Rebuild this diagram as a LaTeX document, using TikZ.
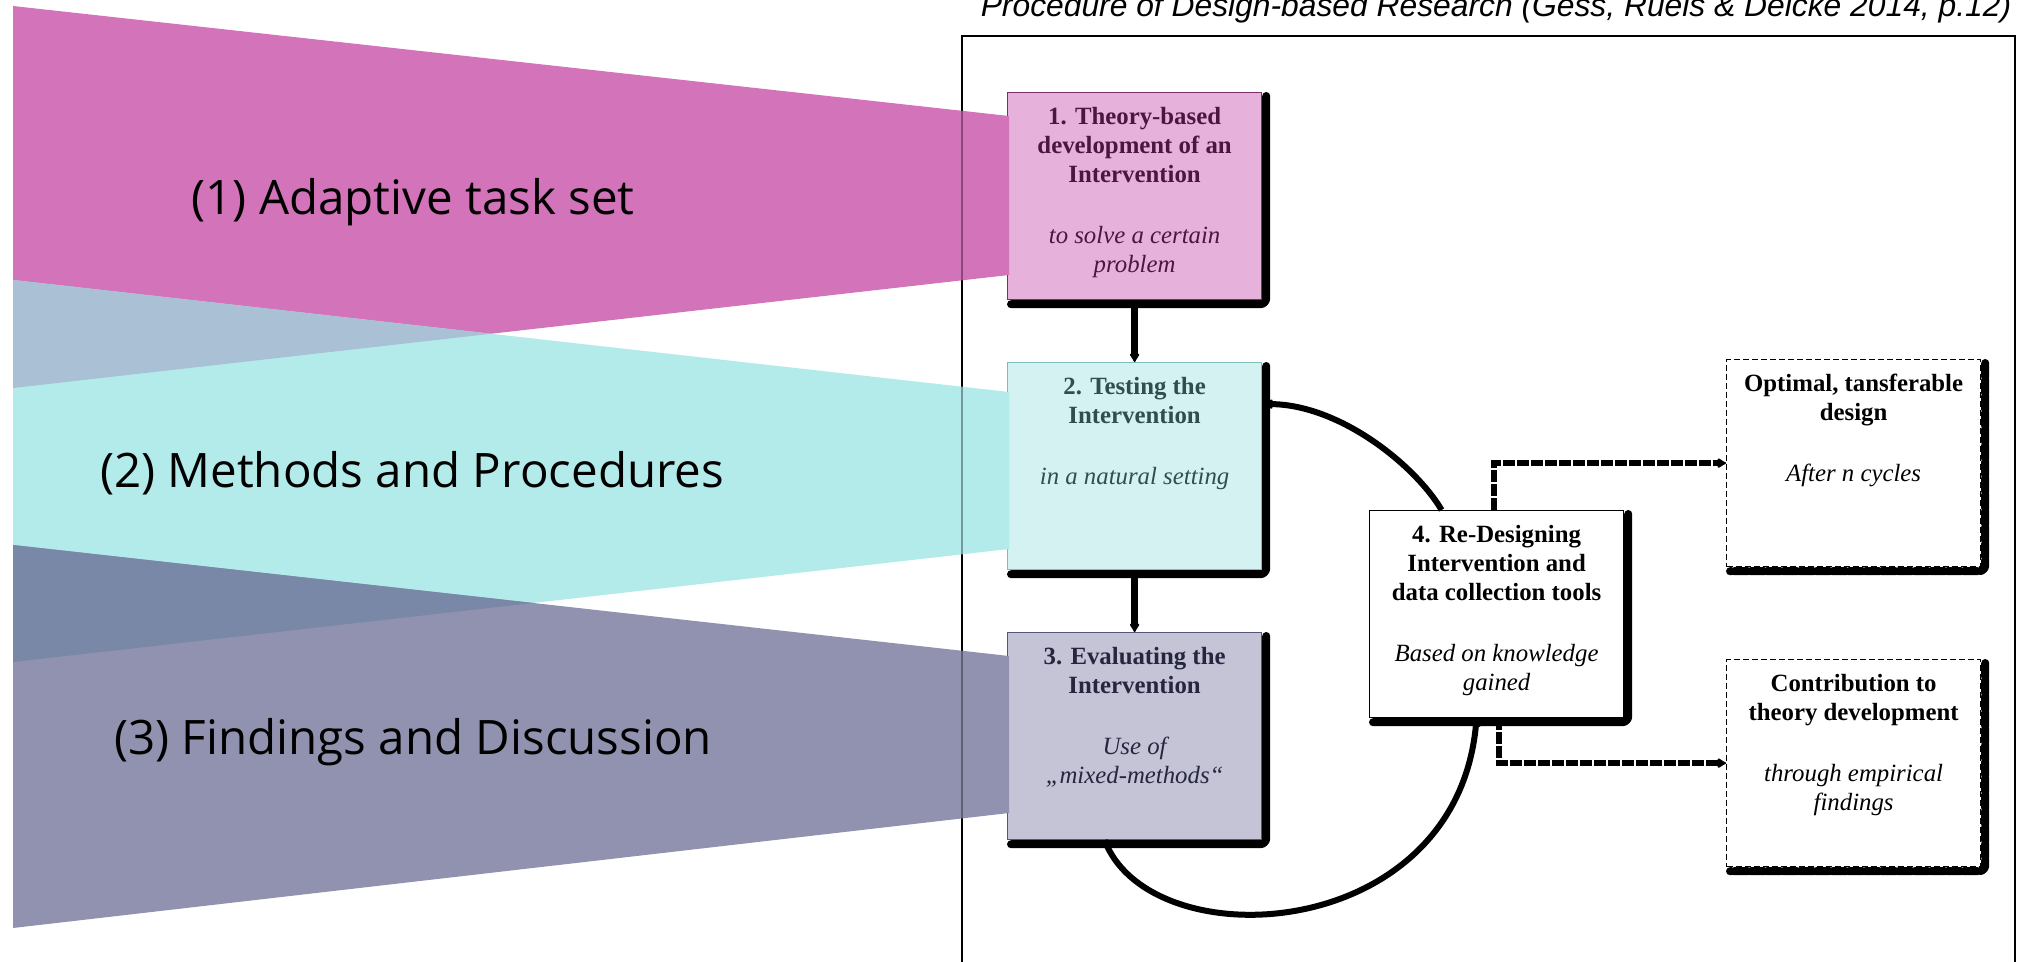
\documentclass[tikz,border=0pt]{standalone}
\usepackage{fontspec}
\setmainfont{Liberation Serif}
\newfontfamily\bandfont{Open Sans}
\newfontfamily\titlefont{Liberation Sans}
\usetikzlibrary{arrows.meta,calc,backgrounds}

\definecolor{bandA}{HTML}{D373B9}
\definecolor{bandB}{HTML}{B3EAEA}
\definecolor{bandC}{HTML}{9192B0}
\definecolor{mixAB}{HTML}{A9C0D5}
\definecolor{mixBC}{HTML}{7888A6}
\definecolor{fillA}{HTML}{E6B1DA}
\definecolor{lineA}{HTML}{7B2D6E}
\definecolor{textA}{HTML}{4A1740}
\definecolor{fillB}{HTML}{D5F2F2}
\definecolor{lineB}{HTML}{7FBDBD}
\definecolor{textB}{HTML}{2F4F4F}
\definecolor{fillC}{HTML}{C4C4D6}
\definecolor{lineC}{HTML}{55557A}
\definecolor{textC}{HTML}{262640}

% box content: bold heading, then italic note, top aligned in a fixed-size box
\newcommand{\stagetext}[2]{\parbox[c][103.5pt][t]{127pt}{\centering
  \fontsize{12.4pt}{14.5pt}\selectfont\vspace*{6pt}%
  \strut{\bfseries #1}\\[16pt]{\itshape #2}}}

\tikzset{
  stagebox/.style={rectangle, draw, inner sep=0pt, line width=0.6pt},
  openbox/.style={stagebox, fill=white, dash pattern=on 3pt off 1.5pt},
  shade line/.style={line width=4pt, line cap=round, line join=round, rounded corners=3pt, black},
  flow/.style={line width=3.2pt, -{Latex[round,length=5pt,width=6pt]}},
  dflow/.style={line width=3pt, dash pattern=on 6pt off 1pt, -{Latex[round,length=5pt,width=6pt]}},
  bandlabel/.style={anchor=base, font=\bandfont\fontsize{23.75pt}{28pt}\selectfont, inner sep=0pt},
}

\begin{document}
\begin{tikzpicture}[x=0.5pt,y=-0.5pt]
\useasboundingbox (0,0) rectangle (2027,962);
\clip (0,0) rectangle (2027,962);

% heading above the frame
\node[anchor=base, inner sep=0pt, font=\titlefont\itshape\fontsize{15.9pt}{18pt}\selectfont] (title)
  at (1496,17) {Procedure of Design-based Research (Gess, Ruels \& Deicke 2014, p.12)};

% outer frame
\draw[line width=0.8pt] (962,1000) -- (962,36) -- (2015,36) -- (2015,1000);

% stages
\node[stagebox, anchor=north west, fill=fillA, draw=lineA, text=textA] (b1) at (1007,92)
  {\stagetext{1. Theory-based\\development of an\\Intervention}{to solve a certain\\problem}};
\node[stagebox, anchor=north west, fill=fillB, draw=lineB, text=textB] (b2) at (1007,362)
  {\stagetext{2. Testing the\\Intervention}{in a natural setting}};
\node[stagebox, anchor=north west, fill=fillC, draw=lineC, text=textC] (b3) at (1007,632)
  {\stagetext{3. Evaluating the\\Intervention}{Use of\\„mixed-methods“}};
\node[stagebox, anchor=north west, fill=white, draw=black, text=black] (b4) at (1369,510)
  {\stagetext{4. Re-Designing\\Intervention and\\data collection tools}{Based on knowledge\\gained}};
\node[openbox, anchor=north west] (b5) at (1726,359)
  {\stagetext{Optimal, tansferable\\design}{After n cycles}};
\node[openbox, anchor=north west] (b6) at (1726,659)
  {\stagetext{Contribution to\\theory development}{through empirical\\findings}};

% box shadows
\begin{scope}[on background layer]
  \foreach \b in {b1,b2,b3,b4}
    \draw[shade line] ($(\b.north east)+(4,4)$) -- ($(\b.south east)+(4,4)$) -- ($(\b.south west)+(4,4)$);
  \foreach \b in {b5,b6}
    \draw[shade line, dash pattern=on 7pt off 1.2pt] ($(\b.north east)+(4,4)$) -- ($(\b.south east)+(4,4)$) -- ($(\b.south west)+(4,4)$);
\end{scope}

% cycle
\draw[flow] (b1.south) -- (b2.north);
\draw[flow] (b2.south) -- (b3.north);
\draw[flow, line width=3pt] ($(b3.south)+(-30,0)$) .. controls (1150,960) and (1455,945) .. ($(b4.south)+(-20,0)$);
\draw[flow, line width=3pt] ($(b4.north)+(-55,0)$) .. controls (1415,465) and (1340,405) .. ($(b2.north east)+(2,42)$);

% outcomes
\draw[dflow] ($(b4.north)+(-3,0)$) |- (b5.west);
\draw[dflow] ($(b4.south)+(2,0)$) |- (b6.west);

% translucent bands on the left
\fill[bandA] (13,6) -- (1009,116) -- (1009,275) -- (13,388) -- cycle;
\fill[bandB] (13,280) -- (1009,392) -- (1009,549) -- (13,662) -- cycle;
\fill[bandC] (13,545) -- (1009,656) -- (1009,813) -- (13,928) -- cycle;
\begin{scope}
  \clip (13,6) -- (1009,116) -- (1009,275) -- (13,388) -- cycle;
  \fill[mixAB] (13,280) -- (1009,392) -- (1009,549) -- (13,662) -- cycle;
\end{scope}
\begin{scope}
  \clip (13,280) -- (1009,392) -- (1009,549) -- (13,662) -- cycle;
  \fill[mixBC] (13,545) -- (1009,656) -- (1009,813) -- (13,928) -- cycle;
\end{scope}
\draw[black, opacity=0.35, line width=0.8pt] (962,36) -- (962,962);

\node[bandlabel] (l1) at (413,215) {(1) Adaptive task set};
\node[bandlabel] (l2) at (412,487) {(2) Methods and Procedures};
\node[bandlabel] (l3) at (413,754) {(3) Findings and Discussion};
\end{tikzpicture}
\end{document}
